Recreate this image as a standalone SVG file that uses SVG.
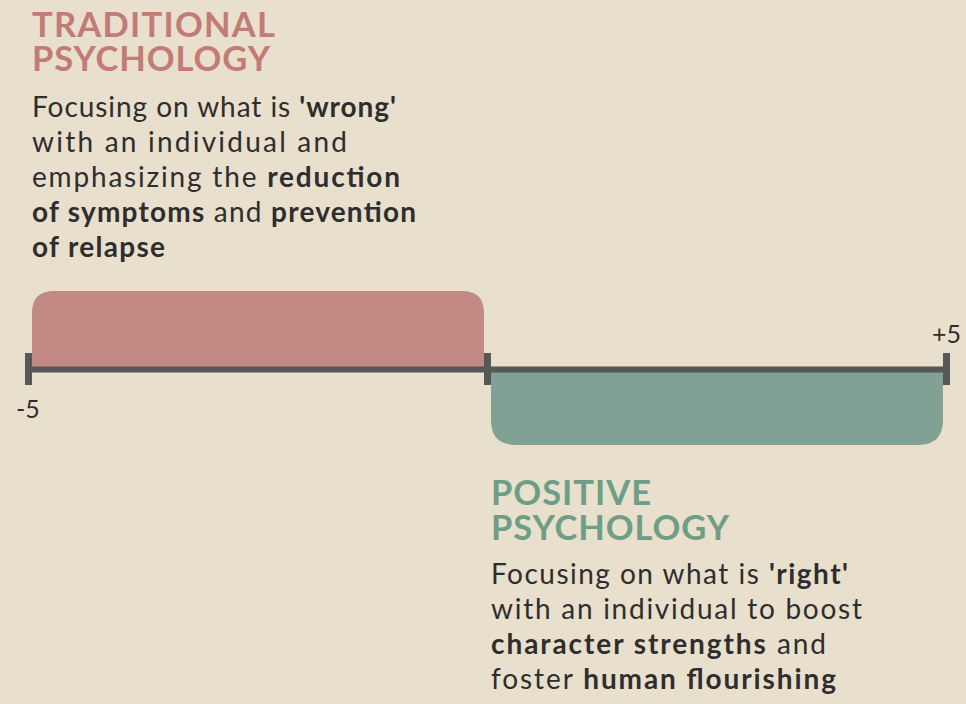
<svg xmlns="http://www.w3.org/2000/svg" width="966" height="704" viewBox="0 0 966 704">
<style>
.t{font-family:Lato,"Noto Sans",sans-serif;}
.h{font-weight:700;font-size:34.5px;}
.b{font-size:28px;fill:#2e2e2e;}
.bb{font-weight:700;}
.lab{font-size:25px;fill:#2e2e2e;}
</style>
<rect width="966" height="704" fill="#e8dfcc"/>
<g id="traditional">
<path d="M32 369 V313 Q32 291 54 291 H462 Q484 291 484 313 V369 Z" fill="#c28a83"/>
<text class="t h" fill="#c27b75" x="32" y="37" textLength="243" lengthAdjust="spacing">TRADITIONAL</text>
<text class="t h" fill="#c27b75" x="32" y="71" textLength="238" lengthAdjust="spacing">PSYCHOLOGY</text>
<text class="t b" x="32" y="117" textLength="364" lengthAdjust="spacing">Focusing on what is <tspan class="bb">'wrong'</tspan></text>
<text class="t b" x="32" y="152" textLength="315" lengthAdjust="spacing">with an individual and</text>
<text class="t b" x="32" y="187" textLength="368" lengthAdjust="spacing">emphasizing the <tspan class="bb">reduction</tspan></text>
<text class="t b" x="32" y="222" textLength="384" lengthAdjust="spacing"><tspan class="bb">of symptoms</tspan> and <tspan class="bb">prevention</tspan></text>
<text class="t b" x="32" y="257" textLength="133" lengthAdjust="spacing"><tspan class="bb">of relapse</tspan></text>
</g>
<g id="positive">
<path d="M491 369 V420 Q491 445 516 445 H918 Q943 445 943 420 V369 Z" fill="#80a193"/>
<text class="t h" fill="#6e9d88" x="491" y="505" textLength="160" lengthAdjust="spacing">POSITIVE</text>
<text class="t h" fill="#6e9d88" x="491" y="540" textLength="238" lengthAdjust="spacing">PSYCHOLOGY</text>
<text class="t b" x="491" y="584" textLength="357" lengthAdjust="spacing">Focusing on what is <tspan class="bb">'right'</tspan></text>
<text class="t b" x="491" y="619" textLength="371" lengthAdjust="spacing">with an individual to boost</text>
<text class="t b" x="491" y="654" textLength="335" lengthAdjust="spacing"><tspan class="bb">character strengths</tspan> and</text>
<text class="t b" x="491" y="689" textLength="345" lengthAdjust="spacing">foster <tspan class="bb">human flourishing</tspan></text>
</g>
<g id="axis" fill="#575757">
<rect x="25" y="366.5" width="925" height="6"/>
<rect x="25" y="353" width="7" height="32"/>
<rect x="484" y="353" width="7" height="32"/>
<rect x="943" y="353" width="7" height="32"/>
<text class="t lab" x="16" y="418">-5</text>
<text class="t lab" x="932" y="343">+5</text>
</g>
</svg>
